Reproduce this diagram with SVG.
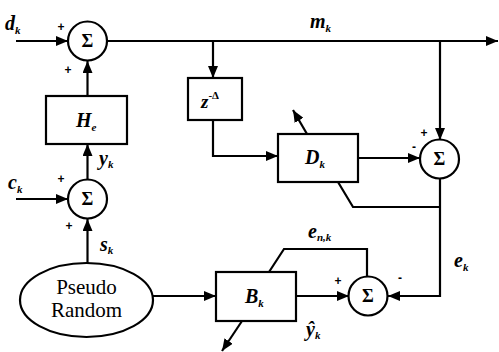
<svg xmlns="http://www.w3.org/2000/svg" width="499" height="352" viewBox="0 0 499 352">
<defs>
<marker id="ah" markerWidth="12" markerHeight="10" refX="12" refY="5" orient="auto" markerUnits="userSpaceOnUse">
<path d="M0,0 L12,5 L0,10 Z" fill="#000"/>
</marker>
<style>
.ln{fill:none;stroke:#000;stroke-width:2.2}
.bx{fill:#fff;stroke:#000;stroke-width:2.2}
.lb{font-family:'Liberation Serif','DejaVu Serif',serif;font-weight:bold;font-style:italic;font-size:20px;fill:#000}
.sb{font-size:11px}
.sg{font-family:'Liberation Serif','DejaVu Serif',serif;font-weight:bold;font-size:18px;fill:#000;text-anchor:middle}
.pm{font-family:'Liberation Sans',sans-serif;font-weight:bold;font-size:12px;fill:#000;text-anchor:middle}
.pr{font-family:'Liberation Serif','DejaVu Serif',serif;font-size:21px;fill:#000;text-anchor:middle}
</style>
</defs>
<rect width="499" height="352" fill="#fff"/>
<g id="connectors">
<line class="ln" x1="16" y1="41" x2="68" y2="41" marker-end="url(#ah)"/>
<line class="ln" x1="107" y1="41" x2="498" y2="41" marker-end="url(#ah)"/>
<line class="ln" x1="213" y1="41" x2="213" y2="78" marker-end="url(#ah)"/>
<polyline class="ln" points="213,120 213,156 278,156" marker-end="url(#ah)"/>
<line class="ln" x1="440" y1="41" x2="440" y2="140" marker-end="url(#ah)"/>
<line class="ln" x1="358" y1="158" x2="420" y2="158" marker-end="url(#ah)"/>
<polyline class="ln" points="338,182 353,207 440,207"/>
<polyline class="ln" points="440,178 440,296 388,296" marker-end="url(#ah)"/>
<line class="ln" x1="307" y1="134" x2="293" y2="110" marker-end="url(#ah)"/>
<line class="ln" x1="87.5" y1="96" x2="87.5" y2="61" marker-end="url(#ah)"/>
<line class="ln" x1="87.5" y1="179" x2="87.5" y2="144" marker-end="url(#ah)"/>
<line class="ln" x1="16" y1="199" x2="68" y2="199" marker-end="url(#ah)"/>
<line class="ln" x1="87.5" y1="263" x2="87.5" y2="219" marker-end="url(#ah)"/>
<line class="ln" x1="153" y1="296" x2="216" y2="296" marker-end="url(#ah)"/>
<line class="ln" x1="296" y1="296" x2="349" y2="296" marker-end="url(#ah)"/>
<polyline class="ln" points="269,272 284,249 367,249 367,276"/>
<line class="ln" x1="242" y1="321" x2="222" y2="351" marker-end="url(#ah)"/>
</g>
<g id="sum1">
<circle class="bx" cx="87.5" cy="41" r="19.5"/>
<text class="sg" x="87.5" y="47">Σ</text>
<text class="pm" x="61" y="31">+</text>
<text class="pm" x="68" y="74">+</text>
</g>
<g id="He">
<rect class="bx" x="46" y="96" width="81" height="48"/>
<text class="lb" x="76" y="127">H<tspan class="sb" dy="4">e</tspan></text>
</g>
<g id="sum2">
<circle class="bx" cx="87.5" cy="199" r="19.5"/>
<text class="sg" x="87.5" y="205">Σ</text>
<text class="pm" x="61" y="183">+</text>
<text class="pm" x="69" y="230">+</text>
</g>
<g id="pseudo">
<ellipse class="bx" cx="86.5" cy="300" rx="66.5" ry="37"/>
<text class="pr" x="86.5" y="294">Pseudo</text>
<text class="pr" x="86.5" y="317">Random</text>
</g>
<g id="zdelay">
<rect class="bx" x="188" y="78" width="54" height="42"/>
<text class="lb" x="201" y="108" style="font-size:19px">z<tspan class="sb" dy="-9" style="font-style:normal">-Δ</tspan></text>
</g>
<g id="Dk">
<rect class="bx" x="278" y="134" width="80" height="48"/>
<text class="lb" x="305" y="164">D<tspan class="sb" dy="4">k</tspan></text>
</g>
<g id="sum3">
<circle class="bx" cx="439.5" cy="159" r="19.5"/>
<text class="sg" x="439.5" y="165">Σ</text>
<text class="pm" x="424" y="137">+</text>
<text class="pm" x="414" y="151">-</text>
</g>
<g id="Bk">
<rect class="bx" x="216" y="272" width="80" height="49"/>
<text class="lb" x="245" y="303">B<tspan class="sb" dy="4">k</tspan></text>
</g>
<g id="sum4">
<circle class="bx" cx="368" cy="296" r="19.5"/>
<text class="sg" x="368" y="302">Σ</text>
<text class="pm" x="338" y="285">+</text>
<text class="pm" x="400" y="282">-</text>
</g>
<g id="labels">
<text class="lb" x="5" y="30">d<tspan class="sb" dy="4">k</tspan></text>
<text class="lb" x="310" y="28">m<tspan class="sb" dy="4">k</tspan></text>
<text class="lb" x="8" y="189">c<tspan class="sb" dy="4">k</tspan></text>
<text class="lb" x="99" y="165">y<tspan class="sb" dy="3">k</tspan></text>
<text class="lb" x="100" y="251">s<tspan class="sb" dy="3">k</tspan></text>
<text class="lb" x="308" y="238">e<tspan class="sb" dy="3">n,k</tspan></text>
<text class="lb" x="454" y="267">e<tspan class="sb" dy="4">k</tspan></text>
<text class="lb" x="306" y="336">ŷ<tspan class="sb" dy="3">k</tspan></text>
</g>
</svg>
